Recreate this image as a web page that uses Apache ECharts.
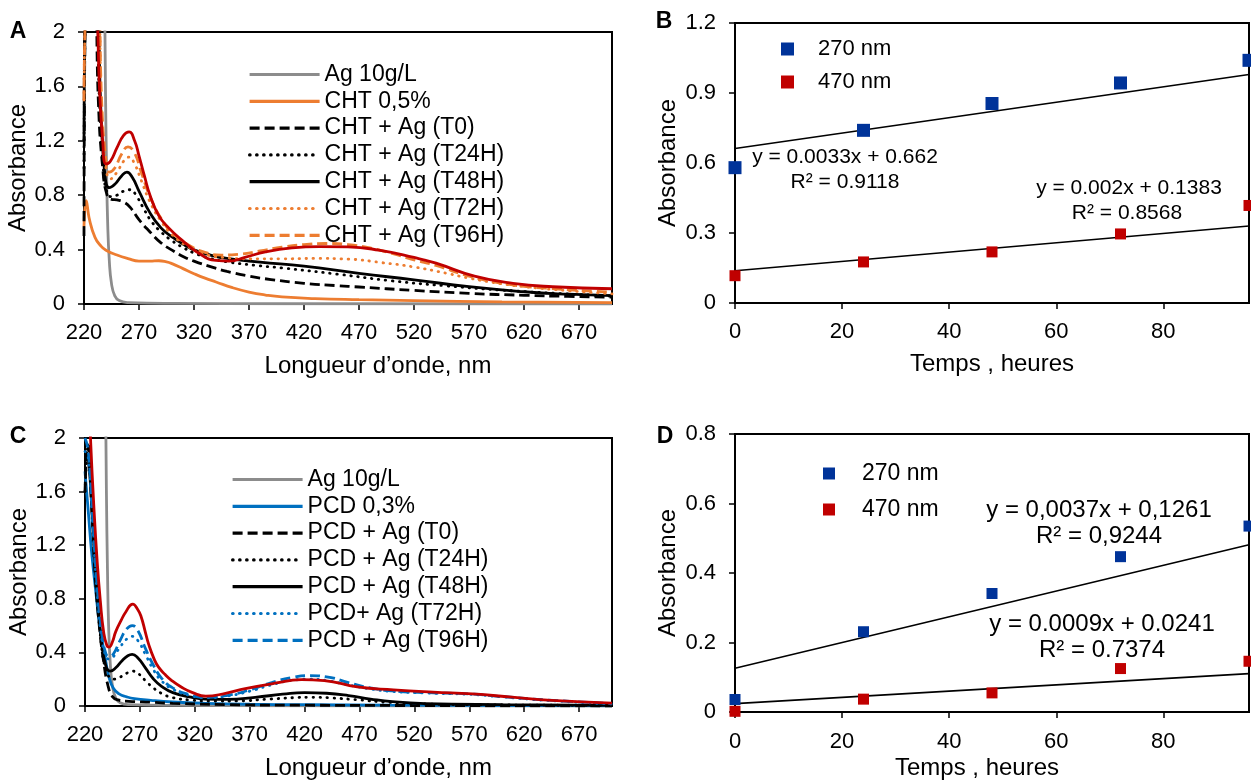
<!DOCTYPE html>
<html><head><meta charset="utf-8">
<script src="https://cdn.jsdelivr.net/npm/echarts@6/dist/echarts.min.js"></script>
<style>html,body{margin:0;padding:0;background:#fff}#c{width:1251px;height:781px}</style>
</head><body><div id="c"></div>
<script>
const FONT = '"Liberation Sans", Arial, sans-serif';

// ---------- Panel A (CHT) : [wavelength nm, absorbance] ----------
const agRef = [[220,3],[237,3],[238.5,2.4],[239.5,1.6],[240.5,1.0],[241.5,0.6],[243,0.32],[245,0.15],[248,0.06],[252,0.025],[260,0.01],[300,0.004],[400,0.002],[700,0]];
const aCHT = [[220,0.57],[222,0.76],[225,0.62],[230,0.49],[235,0.43],[240,0.395],[250,0.36],[260,0.334],[270,0.315],[280,0.315],[288,0.318],[295,0.31],[300,0.297],[310,0.26],[320,0.223],[330,0.19],[340,0.162],[355,0.12],[370,0.088],[385,0.066],[400,0.052],[430,0.04],[470,0.032],[520,0.025],[600,0.016],[700,0.01]];
const aT0 = [[220,0.5],[221.5,2.5],[229,2.6],[233,1.5],[237,1.0],[241,0.8],[245,0.77],[250,0.765],[256,0.75],[262,0.71],[270,0.62],[280,0.53],[290,0.45],[300,0.396],[310,0.35],[320,0.315],[335,0.275],[350,0.24],[370,0.205],[390,0.18],[420,0.152],[450,0.135],[470,0.125],[520,0.1],[570,0.078],[620,0.064],[660,0.056],[700,0.05]];
const aT24 = [[220,1.0],[222,2.5],[230,2.6],[234,1.5],[238,0.95],[241,0.82],[244,0.79],[250,0.8],[256,0.83],[262,0.84],[268,0.79],[275,0.69],[282,0.6],[290,0.53],[300,0.465],[310,0.415],[320,0.375],[335,0.335],[350,0.31],[375,0.285],[400,0.265],[450,0.22],[500,0.17],[550,0.133],[600,0.102],[650,0.078],[700,0.058]];
const aT48 = [[220,1.2],[222.5,2.5],[231,2.6],[235,1.5],[239,0.95],[243,0.855],[248,0.88],[254,0.94],[259,0.97],[264,0.93],[270,0.83],[280,0.67],[290,0.56],[300,0.494],[310,0.44],[320,0.398],[335,0.36],[350,0.335],[380,0.308],[420,0.278],[470,0.225],[520,0.178],[570,0.127],[620,0.09],[660,0.072],[700,0.062]];
const aT72 = [[220,1.5],[223,2.5],[232,2.6],[236,1.4],[240,1.0],[244,0.92],[250,0.97],[256,1.05],[261,1.08],[266,1.03],[272,0.91],[280,0.75],[290,0.61],[300,0.51],[315,0.42],[330,0.365],[350,0.34],[370,0.332],[400,0.332],[430,0.335],[460,0.33],[490,0.305],[520,0.272],[550,0.225],[570,0.19],[600,0.148],[620,0.128],[660,0.098],[700,0.075]];
const aT96 = [[220,1.5],[223,2.5],[232,2.6],[236,1.5],[240,1.05],[243,0.97],[248,1.0],[254,1.1],[260,1.155],[266,1.11],[272,0.97],[280,0.79],[290,0.63],[300,0.525],[315,0.435],[330,0.38],[345,0.36],[360,0.365],[380,0.39],[400,0.418],[420,0.437],[440,0.445],[460,0.437],[480,0.412],[500,0.372],[520,0.325],[540,0.283],[570,0.205],[600,0.152],[640,0.116],[700,0.088]];
const aRed = [[228,2.6],[232,2.1],[234,1.6],[237,1.2],[240,1.03],[244,1.05],[250,1.15],[256,1.24],[261,1.265],[266,1.2],[270,1.09],[275,0.94],[280,0.8],[288,0.65],[297,0.56],[309,0.47],[324,0.375],[340,0.32],[352,0.315],[367,0.345],[385,0.383],[409,0.412],[434,0.422],[460,0.42],[488,0.396],[520,0.342],[540,0.3],[575,0.205],[610,0.152],[646,0.127],[700,0.112]];
const aNames = ['Ag 10g/L','CHT 0,5%','CHT + Ag (T0)','CHT + Ag (T24H)','CHT + Ag (T48H)','CHT + Ag (T72H)','CHT + Ag (T96H)'];

// ---------- Panel C (PCD) ----------
const cPCD = [[220,1.75],[223,1.45],[226,1.15],[230,0.84],[233,0.62],[236,0.47],[239,0.33],[242,0.21],[246,0.13],[251,0.09],[258,0.068],[265,0.055],[280,0.042],[300,0.03],[330,0.02],[370,0.013],[420,0.01],[500,0.006],[700,0.002]];
const cT0 = [[220,1.6],[222.5,1.95],[226,1.5],[229,1.0],[233,0.6],[237,0.33],[241,0.15],[245,0.07],[250,0.045],[260,0.035],[280,0.028],[300,0.02],[350,0.01],[420,0.006],[700,0]];
const cT24 = [[220,1.6],[223,1.95],[227,1.4],[231,0.85],[235,0.45],[239,0.27],[243,0.21],[247,0.2],[252,0.215],[258,0.245],[263,0.26],[268,0.245],[275,0.19],[283,0.13],[292,0.085],[300,0.062],[315,0.045],[335,0.037],[360,0.038],[385,0.05],[410,0.062],[425,0.065],[445,0.06],[470,0.045],[495,0.028],[530,0.015],[600,0.008],[700,0.004]];
const cT48 = [[220,1.9],[223,1.85],[227,1.35],[231,0.85],[235,0.48],[239,0.3],[243,0.26],[248,0.285],[254,0.34],[259,0.375],[263,0.385],[268,0.36],[275,0.285],[282,0.205],[290,0.145],[300,0.1],[315,0.068],[330,0.052],[350,0.05],[375,0.065],[400,0.088],[420,0.1],[440,0.095],[460,0.078],[480,0.052],[500,0.032],[530,0.018],[600,0.01],[700,0.005]];
const cT72 = [[220,1.9],[223,1.85],[227,1.35],[231,0.85],[235,0.52],[239,0.37],[242,0.35],[246,0.37],[252,0.44],[258,0.5],[263,0.52],[268,0.49],[275,0.385],[282,0.275],[290,0.185],[300,0.125],[315,0.08],[330,0.062],[350,0.075],[370,0.11],[390,0.158],[410,0.193],[425,0.2],[440,0.19],[460,0.157],[480,0.127],[500,0.108],[530,0.097],[570,0.087],[600,0.068],[640,0.042],[700,0.015]];
const cT96 = [[220,2.0],[223,1.9],[227,1.4],[231,0.9],[235,0.56],[239,0.39],[242,0.37],[246,0.39],[252,0.49],[258,0.575],[263,0.6],[268,0.565],[275,0.43],[282,0.31],[290,0.205],[300,0.135],[315,0.085],[330,0.065],[350,0.08],[370,0.12],[390,0.175],[410,0.215],[425,0.227],[440,0.218],[460,0.175],[480,0.135],[500,0.113],[530,0.1],[570,0.09],[600,0.07],[640,0.045],[700,0.018]];
const cRed = [[222,2.6],[225,2.0],[228,1.5],[231,1.09],[234,0.78],[237,0.55],[240,0.45],[242,0.44],[245,0.48],[248,0.555],[253,0.64],[257,0.7],[263.5,0.76],[268,0.72],[271,0.67],[275,0.55],[278,0.46],[283,0.35],[287,0.29],[293,0.235],[299,0.19],[308,0.14],[318,0.1],[330,0.073],[348,0.095],[366,0.13],[393,0.17],[417,0.197],[438,0.19],[468,0.142],[501,0.12],[537,0.103],[573,0.09],[609,0.066],[645,0.042],[700,0.022]];
const cNames = ['Ag 10g/L','PCD 0,3%','PCD + Ag (T0)','PCD + Ag (T24H)','PCD + Ag (T48H)','PCD+ Ag (T72H)','PCD + Ag (T96H)'];

// ---------- Panels B and D : time (h) vs absorbance ----------
const hours = [0,24,48,72,96];
const b270 = [0.58,0.74,0.855,0.943,1.04];
const b470 = [0.117,0.176,0.219,0.296,0.418];
const bFit270 = [0.662,0.979];   // trendline values at 0 h and 96 h
const bFit470 = [0.1383,0.3303];
const d270 = [0.036,0.231,0.341,0.447,0.535];
const d470 = [0.002,0.037,0.055,0.125,0.146];
const dFit270 = [0.1261,0.4813];
const dFit470 = [0.0241,0.1105];
const fitHours = [0,96];
const bEq = ['y = 0.0033x + 0.662','R² = 0.9118','y = 0.002x + 0.1383','R² = 0.8568'];
const dEq = ['y = 0,0037x + 0,1261','R² = 0,9244','y = 0.0009x + 0.0241','R² = 0.7374'];

const GREY='#8c8c8c', ORANGE='#ED7D31', BLUE='#0070C0', RED='#C00000', NAVY='#003399';
const DASH=[10,5], DOT=[0.5,6.5];
const TICK=22;

function ln(name, data, color, type, gi, z){
  return {name, type:'line', data, xAxisIndex:gi, yAxisIndex:gi, symbol:'none', showSymbol:false,
    smooth:0.5, clip:true, z:z||2,
    lineStyle:{color, width:2.8, type:type||'solid', cap:type===DOT?'round':'butt'}, itemStyle:{color}};
}
function sc(name, ys, color, size, gi){
  return {name, type:'scatter', xAxisIndex:gi, yAxisIndex:gi, symbol:'rect', symbolSize:size,
    data: hours.map((h,i)=>[h,ys[i]]), itemStyle:{color, opacity:1}, z:5};
}
function fit(name, ys, gi){
  return {name, type:'line', xAxisIndex:gi, yAxisIndex:gi, symbol:'none', data: fitHours.map((h,i)=>[h,ys[i]]),
    lineStyle:{color:'#000', width:1.6}, z:4, silent:true};
}

const lab = {color:'#000', fontSize:TICK, fontFamily:FONT};
function xAx(gi, min, max, itv, name, gap, pad, lm){
  return {gridIndex:gi, type:'value', min, max, interval:itv, name, nameLocation:'middle', nameGap:gap,
    nameTextStyle:{color:'#000', fontSize:24, fontFamily:FONT, padding:pad},
    axisLine:{show:true, onZero:false, lineStyle:{color:'#000', width:2}},
    axisTick:{show:true, length:6, lineStyle:{color:'#000', width:1.5}},
    axisLabel:Object.assign({margin:lm, showMaxLabel:false}, lab), splitLine:{show:false}};
}
function yAx(gi, min, max, itv, gap){
  return {gridIndex:gi, type:'value', min, max, interval:itv, name:'Absorbance', nameLocation:'middle', nameGap:gap,
    nameTextStyle:{color:'#000', fontSize:24, fontFamily:FONT},
    axisLine:{show:true, lineStyle:{color:'#000', width:2}},
    axisTick:{show:true, length:6, lineStyle:{color:'#000', width:1.5}},
    axisLabel:Object.assign({margin:19}, lab), splitLine:{show:false}};
}
const gridStyle = {show:true, borderColor:'#000', borderWidth:2, containLabel:false};

const series = [
  ln('Ag 10g/L', agRef, GREY, 'solid', 0, 2),
  ln('CHT 0,5%', aCHT, ORANGE, 'solid', 0, 2),
  ln('CHT + Ag (T0)', aT0, '#000', DASH, 0, 3),
  ln('CHT + Ag (T24H)', aT24, '#000', DOT, 0, 3),
  ln('CHT + Ag (T48H)', aT48, '#000', 'solid', 0, 3),
  ln('CHT + Ag (T72H)', aT72, ORANGE, DOT, 0, 3),
  ln('CHT + Ag (T96H)', aT96, ORANGE, DASH, 0, 3),
  ln('A_red', aRed, RED, 'solid', 0, 4),
  ln('Ag 10g/L', agRef, GREY, 'solid', 2, 2),
  ln('PCD 0,3%', cPCD, BLUE, 'solid', 2, 3),
  ln('PCD + Ag (T0)', cT0, '#000', DASH, 2, 3),
  ln('PCD + Ag (T24H)', cT24, '#000', DOT, 2, 3),
  ln('PCD + Ag (T48H)', cT48, '#000', 'solid', 2, 3),
  ln('PCD+ Ag (T72H)', cT72, BLUE, DOT, 2, 3),
  ln('PCD + Ag (T96H)', cT96, BLUE, DASH, 2, 3),
  ln('C_red', cRed, RED, 'solid', 2, 4),
  fit('fitB270', bFit270, 1), fit('fitB470', bFit470, 1),
  sc('270 nm', b270, NAVY, 13, 1), sc('470 nm', b470, RED, 11, 1),
  fit('fitD270', dFit270, 3), fit('fitD470', dFit470, 3),
  sc('270 nm', d270, NAVY, 11, 3), sc('470 nm', d470, RED, 11, 3)
];

function txt(x, y, s, size, bold){
  return {type:'text', x, y, style:{text:s, fill:'#000', font:(bold?'bold ':'')+size+'px '+FONT, textAlign:'center', textVerticalAlign:'middle'}, z:10};
}

const legLine = {orient:'vertical', itemWidth:70, itemHeight:20, itemGap:3.8,
  itemStyle:{opacity:0}, lineStyle:{width:3.2},
  textStyle:{color:'#000', fontSize:23, fontFamily:FONT, lineHeight:20}};

const option = {
  animation:false,
  backgroundColor:'#fff',
  grid:[
    Object.assign({left:84, top:32, width:528, height:272}, gridStyle),
    Object.assign({left:735, top:23, width:514, height:280}, gridStyle),
    Object.assign({left:85, top:438, width:527, height:275}, gridStyle),
    Object.assign({left:735, top:434, width:514, height:284}, gridStyle)
  ],
  xAxis:[
    xAx(0, 220, 700, 50, 'Longueur d’onde, nm', 50, [0,0,0,60], 18),
    xAx(1, 0, 96, 20, 'Temps , heures', 49, 0, 18),
    xAx(2, 220, 700, 50, 'Longueur d’onde, nm', 50, [0,0,0,60], 18),
    xAx(3, 0, 96, 20, 'Temps , heures', 44, [0,30,0,0], 19)
  ],
  yAxis:[
    yAx(0, 0, 2, 0.4, 50),
    yAx(1, 0, 1.2, 0.3, 55),
    yAx(2, 0, 2, 0.4, 50),
    yAx(3, 0, 0.8, 0.2, 55)
  ],
  legend:[
    Object.assign({left:243, top:58, data:aNames}, legLine),
    Object.assign({left:226, top:463, data:cNames}, legLine),
    {orient:'vertical', left:776, top:33, itemWidth:13, itemHeight:13, itemGap:11, data:['270 nm','470 nm'],
      textStyle:{color:'#000', fontSize:22, fontFamily:FONT, lineHeight:20, padding:[0,0,0,19]}},
    {orient:'vertical', left:818, top:457, itemWidth:12, itemHeight:12, itemGap:13, data:['270 nm','470 nm'],
      textStyle:{color:'#000', fontSize:23, fontFamily:FONT, lineHeight:20, padding:[0,0,0,22]}}
  ],
  graphic:[
    txt(18, 32, 'A', 23, true), txt(664, 22, 'B', 23, true),
    txt(18, 437, 'C', 23, true), txt(665, 437, 'D', 23, true),
    txt(845, 157, bEq[0], 21), txt(845, 182, bEq[1], 21),
    txt(1129, 188, bEq[2], 21), txt(1127, 213, bEq[3], 21),
    txt(1099, 510, dEq[0], 24), txt(1099, 536, dEq[1], 24),
    txt(1102, 624, dEq[2], 24), txt(1102, 650, dEq[3], 24)
  ],
  series
};
const chart = echarts.init(document.getElementById('c'), null, {renderer:'canvas'});
chart.setOption(option);
</script></body></html>
